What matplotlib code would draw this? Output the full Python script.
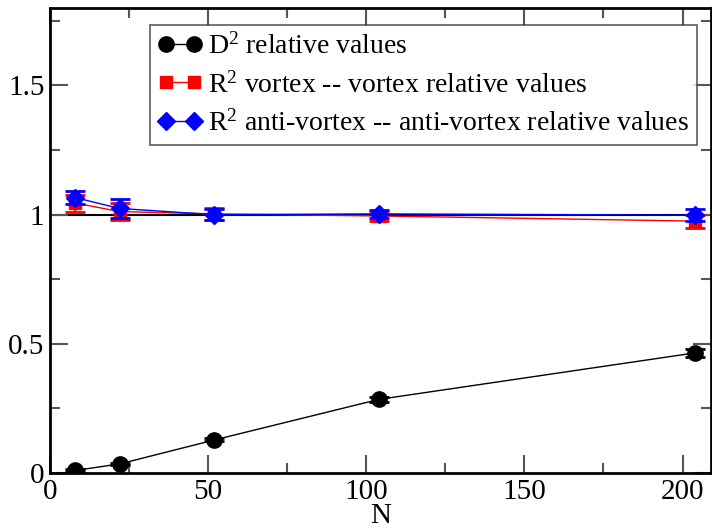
import matplotlib
matplotlib.use("Agg")
import matplotlib.pyplot as plt
from matplotlib.lines import Line2D
from matplotlib.ticker import MultipleLocator, FixedFormatter, FixedLocator

plt.rcParams['font.family'] = ['Liberation Serif', 'DejaVu Serif']
plt.rcParams['mathtext.fontset'] = 'custom'
plt.rcParams['mathtext.rm'] = 'Liberation Serif'
plt.rcParams['mathtext.it'] = 'Liberation Serif:italic'

N = [8, 22, 52, 104, 204]
d2 = [0.010, 0.035, 0.128, 0.285, 0.465]
d2_err = [0.004, 0.004, 0.006, 0.010, 0.015]
vortex = [1.045, 1.012, 1.003, 0.995, 0.975]
vortex_err = [0.033, 0.033, 0.022, 0.018, 0.025]
anti = [1.066, 1.024, 1.000, 1.003, 0.998]
anti_err = [0.025, 0.035, 0.020, 0.015, 0.022]

labels = [r"$\mathregular{D^2}$ relative values",
          r"$\mathregular{R^2}$ vortex -- vortex relative values",
          r"$\mathregular{R^2}$ anti-vortex -- anti-vortex relative values"]

fig = plt.figure(figsize=(7.12, 5.29), dpi=100)
ax = fig.add_axes([50/712, 1-473/529, 661/712, 465/529])

ax.axhline(1.0, color='black', lw=1.5, zorder=1)

styles = [('black', 'o', 11), ('red', 's', 9), ('blue', 'D', 9)]
series = [(d2, d2_err), (vortex, vortex_err), (anti, anti_err)]
handles = []
for (vals, errs), (c, m, ms), lab, z in zip(series, styles, labels, [3, 4, 5]):
    ax.errorbar(N, vals, yerr=errs, color=c, marker=m, ms=ms, lw=1.0,
                capsize=7, capthick=2, elinewidth=1.5, zorder=z)
    handles.append(Line2D([], [], color=c, marker=m, ms=ms, lw=1.0, label=lab))

ax.set_xlim(0, 209)
ax.set_ylim(0, 1.8)
ax.xaxis.set_major_locator(MultipleLocator(50))
ax.xaxis.set_minor_locator(MultipleLocator(25))
ax.yaxis.set_major_locator(FixedLocator([0, 0.5, 1.0, 1.5]))
ax.yaxis.set_major_formatter(FixedFormatter(['0', '0.5', '1', '1.5']))
ax.yaxis.set_minor_locator(MultipleLocator(0.25))

ax.tick_params(which='both', direction='in', top=True, right=True,
               labelsize=21, color='#555555', width=1.5, pad=4)
ax.tick_params(which='major', length=13)
ax.tick_params(which='minor', length=7)
for s in ax.spines.values():
    s.set_linewidth(2)

ax.set_xlabel("N", fontsize=21, labelpad=-1)

leg = ax.legend(handles=handles, loc='upper left', bbox_to_anchor=(0.151, 0.963),
                fontsize=20, numpoints=2, handlelength=1.6, handletextpad=0.2,
                labelspacing=0.42, borderpad=0.3, borderaxespad=0,
                fancybox=False, frameon=True)
leg.get_frame().set_edgecolor('#333333')
leg.get_frame().set_linewidth(1.2)

fig.savefig("out.png", dpi=100)
